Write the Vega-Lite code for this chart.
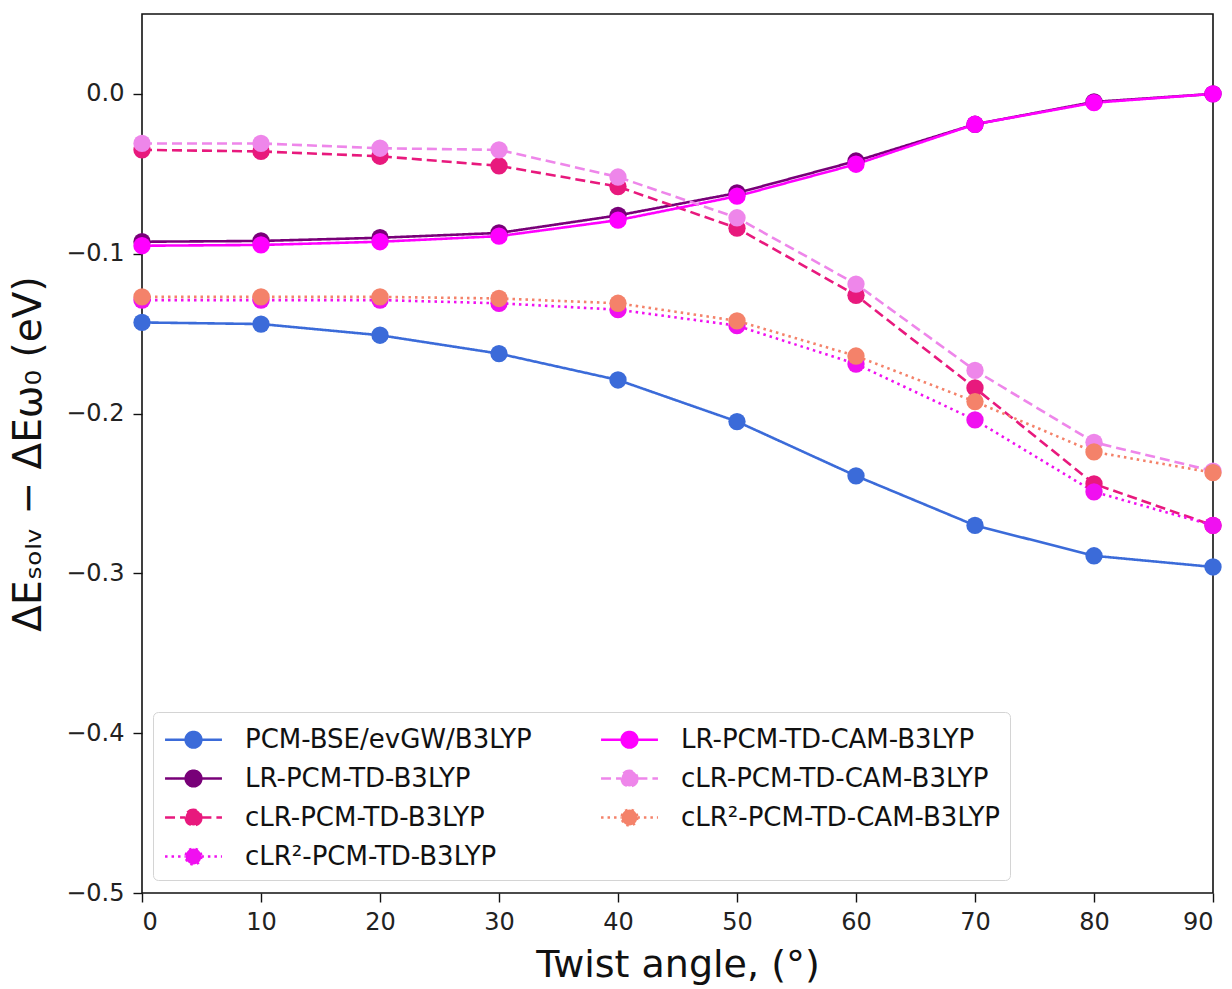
{
  "$schema": "https://vega.github.io/schema/vega-lite/v6.json",
  "width": 1071,
  "height": 879,
  "autosize": {"type": "none"},
  "padding": {"left": 142, "top": 14, "right": 19, "bottom": 96},
  "background": "white",
  "config": {
    "font": "DejaVu Sans",
    "view": {"stroke": "#111", "strokeWidth": 1.6},
    "axis": {"labelFont": "DejaVu Sans", "titleFont": "DejaVu Sans", "labelColor": "#222", "titleColor": "#111", "tickColor": "#111", "tickWidth": 1.4, "domain": false, "grid": false}
  },
  "data": {"values": [
    {"angle": 0, "method": "PCM-BSE/evGW/B3LYP", "value": -0.143},
    {"angle": 10, "method": "PCM-BSE/evGW/B3LYP", "value": -0.144},
    {"angle": 20, "method": "PCM-BSE/evGW/B3LYP", "value": -0.151},
    {"angle": 30, "method": "PCM-BSE/evGW/B3LYP", "value": -0.1625},
    {"angle": 40, "method": "PCM-BSE/evGW/B3LYP", "value": -0.179},
    {"angle": 50, "method": "PCM-BSE/evGW/B3LYP", "value": -0.205},
    {"angle": 60, "method": "PCM-BSE/evGW/B3LYP", "value": -0.239},
    {"angle": 70, "method": "PCM-BSE/evGW/B3LYP", "value": -0.27},
    {"angle": 80, "method": "PCM-BSE/evGW/B3LYP", "value": -0.289},
    {"angle": 90, "method": "PCM-BSE/evGW/B3LYP", "value": -0.296},
    {"angle": 0, "method": "LR-PCM-TD-B3LYP", "value": -0.0925},
    {"angle": 10, "method": "LR-PCM-TD-B3LYP", "value": -0.092},
    {"angle": 20, "method": "LR-PCM-TD-B3LYP", "value": -0.09},
    {"angle": 30, "method": "LR-PCM-TD-B3LYP", "value": -0.087},
    {"angle": 40, "method": "LR-PCM-TD-B3LYP", "value": -0.076},
    {"angle": 50, "method": "LR-PCM-TD-B3LYP", "value": -0.062},
    {"angle": 60, "method": "LR-PCM-TD-B3LYP", "value": -0.042},
    {"angle": 70, "method": "LR-PCM-TD-B3LYP", "value": -0.019},
    {"angle": 80, "method": "LR-PCM-TD-B3LYP", "value": -0.005},
    {"angle": 90, "method": "LR-PCM-TD-B3LYP", "value": 0.0},
    {"angle": 0, "method": "cLR-PCM-TD-B3LYP", "value": -0.035},
    {"angle": 10, "method": "cLR-PCM-TD-B3LYP", "value": -0.036},
    {"angle": 20, "method": "cLR-PCM-TD-B3LYP", "value": -0.039},
    {"angle": 30, "method": "cLR-PCM-TD-B3LYP", "value": -0.045},
    {"angle": 40, "method": "cLR-PCM-TD-B3LYP", "value": -0.058},
    {"angle": 50, "method": "cLR-PCM-TD-B3LYP", "value": -0.084},
    {"angle": 60, "method": "cLR-PCM-TD-B3LYP", "value": -0.126},
    {"angle": 70, "method": "cLR-PCM-TD-B3LYP", "value": -0.184},
    {"angle": 80, "method": "cLR-PCM-TD-B3LYP", "value": -0.244},
    {"angle": 90, "method": "cLR-PCM-TD-B3LYP", "value": -0.27},
    {"angle": 0, "method": "cLR²-PCM-TD-B3LYP", "value": -0.129},
    {"angle": 10, "method": "cLR²-PCM-TD-B3LYP", "value": -0.129},
    {"angle": 20, "method": "cLR²-PCM-TD-B3LYP", "value": -0.129},
    {"angle": 30, "method": "cLR²-PCM-TD-B3LYP", "value": -0.131},
    {"angle": 40, "method": "cLR²-PCM-TD-B3LYP", "value": -0.135},
    {"angle": 50, "method": "cLR²-PCM-TD-B3LYP", "value": -0.145},
    {"angle": 60, "method": "cLR²-PCM-TD-B3LYP", "value": -0.169},
    {"angle": 70, "method": "cLR²-PCM-TD-B3LYP", "value": -0.204},
    {"angle": 80, "method": "cLR²-PCM-TD-B3LYP", "value": -0.249},
    {"angle": 90, "method": "cLR²-PCM-TD-B3LYP", "value": -0.27},
    {"angle": 0, "method": "LR-PCM-TD-CAM-B3LYP", "value": -0.095},
    {"angle": 10, "method": "LR-PCM-TD-CAM-B3LYP", "value": -0.0945},
    {"angle": 20, "method": "LR-PCM-TD-CAM-B3LYP", "value": -0.0925},
    {"angle": 30, "method": "LR-PCM-TD-CAM-B3LYP", "value": -0.089},
    {"angle": 40, "method": "LR-PCM-TD-CAM-B3LYP", "value": -0.079},
    {"angle": 50, "method": "LR-PCM-TD-CAM-B3LYP", "value": -0.064},
    {"angle": 60, "method": "LR-PCM-TD-CAM-B3LYP", "value": -0.044},
    {"angle": 70, "method": "LR-PCM-TD-CAM-B3LYP", "value": -0.019},
    {"angle": 80, "method": "LR-PCM-TD-CAM-B3LYP", "value": -0.0055},
    {"angle": 90, "method": "LR-PCM-TD-CAM-B3LYP", "value": 0.0},
    {"angle": 0, "method": "cLR-PCM-TD-CAM-B3LYP", "value": -0.031},
    {"angle": 10, "method": "cLR-PCM-TD-CAM-B3LYP", "value": -0.031},
    {"angle": 20, "method": "cLR-PCM-TD-CAM-B3LYP", "value": -0.034},
    {"angle": 30, "method": "cLR-PCM-TD-CAM-B3LYP", "value": -0.035},
    {"angle": 40, "method": "cLR-PCM-TD-CAM-B3LYP", "value": -0.052},
    {"angle": 50, "method": "cLR-PCM-TD-CAM-B3LYP", "value": -0.0775},
    {"angle": 60, "method": "cLR-PCM-TD-CAM-B3LYP", "value": -0.119},
    {"angle": 70, "method": "cLR-PCM-TD-CAM-B3LYP", "value": -0.173},
    {"angle": 80, "method": "cLR-PCM-TD-CAM-B3LYP", "value": -0.218},
    {"angle": 90, "method": "cLR-PCM-TD-CAM-B3LYP", "value": -0.236},
    {"angle": 0, "method": "cLR²-PCM-TD-CAM-B3LYP", "value": -0.127},
    {"angle": 10, "method": "cLR²-PCM-TD-CAM-B3LYP", "value": -0.127},
    {"angle": 20, "method": "cLR²-PCM-TD-CAM-B3LYP", "value": -0.127},
    {"angle": 30, "method": "cLR²-PCM-TD-CAM-B3LYP", "value": -0.128},
    {"angle": 40, "method": "cLR²-PCM-TD-CAM-B3LYP", "value": -0.131},
    {"angle": 50, "method": "cLR²-PCM-TD-CAM-B3LYP", "value": -0.142},
    {"angle": 60, "method": "cLR²-PCM-TD-CAM-B3LYP", "value": -0.164},
    {"angle": 70, "method": "cLR²-PCM-TD-CAM-B3LYP", "value": -0.1925},
    {"angle": 80, "method": "cLR²-PCM-TD-CAM-B3LYP", "value": -0.224},
    {"angle": 90, "method": "cLR²-PCM-TD-CAM-B3LYP", "value": -0.237}
  ]},
  "encoding": {
    "x": {"field": "angle", "type": "quantitative",
      "scale": {"domain": [0, 90], "nice": false, "zero": false},
      "axis": {"values": [0,10,20,30,40,50,60,70,80,90], "format": "d", "title": "Twist angle, (°)", "labelFontSize": 24, "titleFontSize": 38, "titleFontWeight": "normal", "tickSize": 9, "labelPadding": 8, "titlePadding": 12}},
    "y": {"field": "value", "type": "quantitative",
      "scale": {"domain": [-0.5, 0.05], "nice": false, "zero": false},
      "axis": {"values": [-0.5,-0.4,-0.3,-0.2,-0.1,0.0], "format": ".1f", "title": "ΔEₛₒₗᵥ − ΔEω₀ (eV)", "labelFontSize": 24, "titleFontSize": 39, "titleFontWeight": "normal", "tickSize": 9, "labelPadding": 9, "titlePadding": 17}}
  },
  "layer": [
    {
      "mark": {"type": "line", "strokeWidth": 2.6},
      "encoding": {
        "color": {"field": "method", "type": "nominal",
          "scale": {
            "domain": ["PCM-BSE/evGW/B3LYP","LR-PCM-TD-B3LYP","cLR-PCM-TD-B3LYP","cLR²-PCM-TD-B3LYP","LR-PCM-TD-CAM-B3LYP","cLR-PCM-TD-CAM-B3LYP","cLR²-PCM-TD-CAM-B3LYP"],
            "range": ["#3b6bd9","#780078","#e8197d","#f010f0","#ff00ff","#ee86ea","#f4826a"]
          },
          "legend": {
            "title": null, "orient": "none", "legendX": 11, "legendY": 698, "columns": 2,
            "direction": "vertical",
            "symbolType": "M -1.8 0 L -0.5 0 M 0.5 0 L 1.8 0 M 0.5 0 A 0.5 0.5 0 1 1 -0.5 0 A 0.5 0.5 0 1 1 0.5 0 Z",
            "symbolSize": 1000, "symbolStrokeWidth": 2.4, "symbolOffset": 13, "labelFontSize": 26, "labelFont": "DejaVu Sans", "labelColor": "#111",
            "labelOffset": 34, "rowPadding": 8, "columnPadding": 64, "padding": 10,
            "strokeColor": "#d4d4d4", "cornerRadius": 5, "fillColor": "white", "labelLimit": 600,
            "encode": {"symbols": {"update": {"fill": {"scale": "color", "field": "value"}, "fillOpacity": {"value": 1}}}}
          }
        },
        "strokeDash": {"field": "method", "type": "nominal",
          "scale": {
            "domain": ["PCM-BSE/evGW/B3LYP","LR-PCM-TD-B3LYP","cLR-PCM-TD-B3LYP","cLR²-PCM-TD-B3LYP","LR-PCM-TD-CAM-B3LYP","cLR-PCM-TD-CAM-B3LYP","cLR²-PCM-TD-CAM-B3LYP"],
            "range": [[1,0],[1,0],[10,5],[2.5,4],[1,0],[10,5],[2.5,4]]
          },
          "legend": null
        }
      }
    },
    {
      "mark": {"type": "point", "shape": "circle", "filled": true, "opacity": 1, "size": 300},
      "encoding": {
        "color": {"field": "method", "type": "nominal", "legend": null}
      }
    }
  ]
}
